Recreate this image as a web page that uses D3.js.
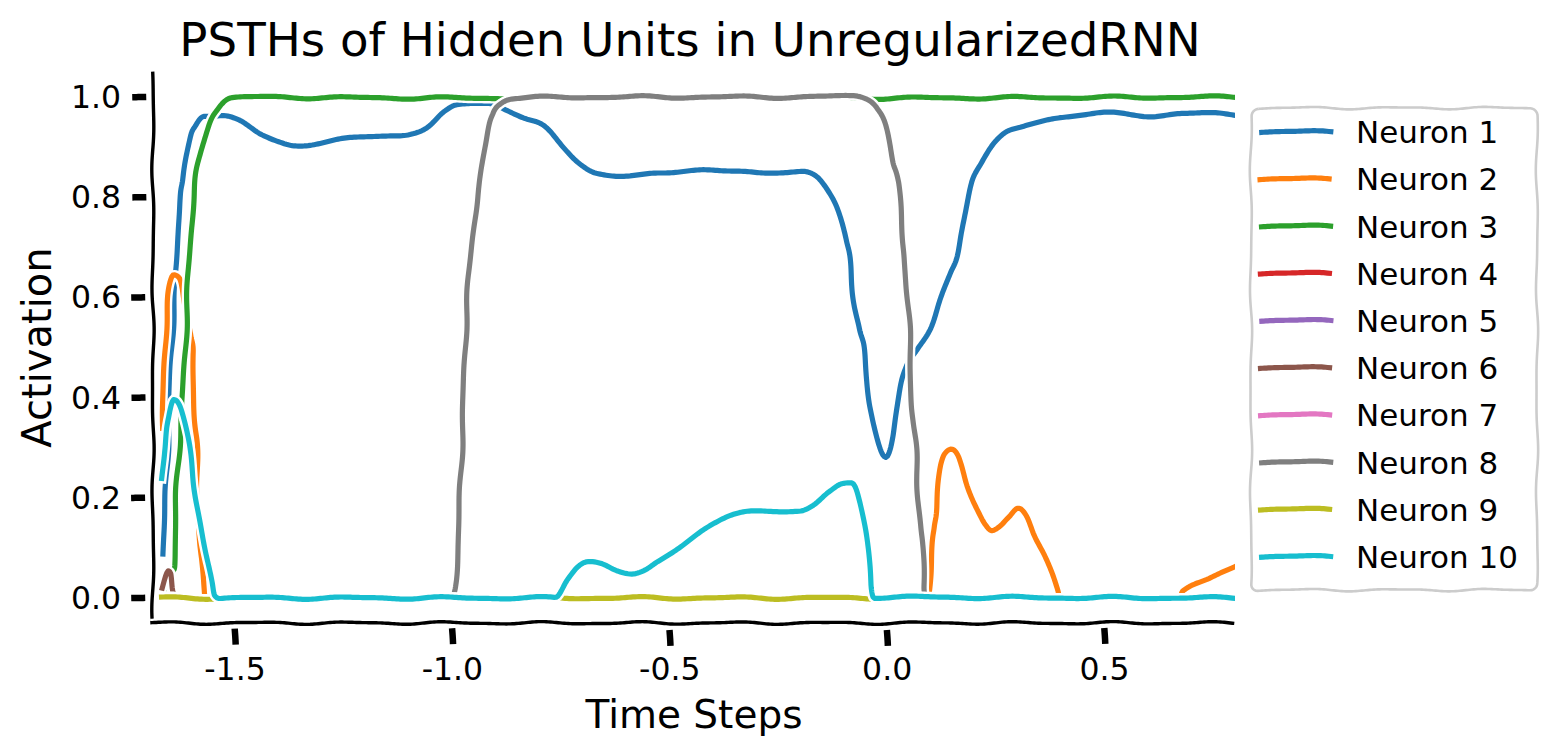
<!DOCTYPE html>
<html><head><meta charset="utf-8">
<script src="https://cdn.jsdelivr.net/npm/d3@7"></script>
<style>
body{margin:0;background:#fff;}
svg{display:block;font-family:"DejaVu Sans",sans-serif;}
</style>
</head><body>
<svg id="c" width="1556" height="756"></svg>
<script>
// ---------------- data ----------------
const neuronNames = ["Neuron 1","Neuron 2","Neuron 3","Neuron 4","Neuron 5","Neuron 6","Neuron 7","Neuron 8","Neuron 9","Neuron 10"];
const neuronColors = ["#1f77b4","#ff7f0e","#2ca02c","#d62728","#9467bd","#8c564b","#e377c2","#7f7f7f","#bcbd22","#17becf"];
const xTicks = [-1.5,-1.0,-0.5,0.0,0.5];
const xTickLabels = ["-1.5","-1.0","-0.5","0.0","0.5"];
const yTicks = [0.0,0.2,0.4,0.6,0.8,1.0];
const yTickLabels = ["0.0","0.2","0.4","0.6","0.8","1.0"];
const titleText = "PSTHs of Hidden Units in UnregularizedRNN";
const xLabel = "Time Steps";
const yLabel = "Activation";

const n1_t = [-1.667,-1.655,-1.651,-1.635,-1.628,-1.618,-1.602,-1.594,-1.572,-1.533,-1.494,-1.441,-1.402,-1.366,-1.310,-1.234,-1.159,-1.097,-1.057,-1.021,-0.989,-0.943,-0.913,-0.883,-0.837,-0.791,-0.745,-0.706,-0.667,-0.591,-0.515,-0.423,-0.361,-0.299,-0.246,-0.193,-0.161,-0.138,-0.115,-0.094,-0.083,-0.076,-0.067,-0.051,-0.044,-0.034,-0.021,-0.005,0.011,0.023,0.032,0.044,0.067,0.099,0.120,0.147,0.163,0.170,0.182,0.195,0.218,0.241,0.264,0.306,0.361,0.416,0.490,0.566,0.605,0.680,0.800];
const n1_v = [0.086,0.291,0.404,0.653,0.789,0.835,0.928,0.942,0.964,0.964,0.954,0.924,0.910,0.904,0.908,0.918,0.922,0.928,0.940,0.968,0.984,0.988,0.988,0.978,0.958,0.940,0.900,0.869,0.849,0.841,0.849,0.855,0.851,0.849,0.851,0.851,0.841,0.815,0.773,0.711,0.663,0.588,0.540,0.486,0.416,0.363,0.307,0.283,0.321,0.376,0.424,0.458,0.492,0.540,0.588,0.649,0.691,0.731,0.787,0.829,0.869,0.904,0.924,0.938,0.954,0.962,0.968,0.964,0.962,0.968,0.964];

const n2_t = [-1.667,-1.660,-1.651,-1.639,-1.628,-1.619,-1.614,-1.603,-1.597,-1.593,-1.588,-1.584,-1.578,-1.571,-1.566,0.097,0.101,0.108,0.115,0.122,0.131,0.145,0.159,0.170,0.186,0.209,0.225,0.241,0.257,0.280,0.303,0.322,0.336,0.361,0.377,0.393,0.400,0.674,0.680,0.743,0.800];
const n2_v = [0.337,0.518,0.612,0.643,0.639,0.617,0.576,0.520,0.498,0.363,0.291,0.149,0.078,0.022,0.0,0.0,0.088,0.141,0.177,0.265,0.289,0.297,0.287,0.265,0.225,0.177,0.149,0.135,0.141,0.159,0.177,0.160,0.128,0.085,0.052,0.016,0.0,0.0,0.014,0.038,0.064];

const n3_t = [-1.667,-1.648,-1.641,-1.634,-1.623,-1.614,-1.607,-1.593,-1.579,-1.561,-1.540,-1.510,-1.464,-1.300,-1.000,-0.500,0.000,0.400,0.800];
const n3_v = [0.0,0.048,0.056,0.219,0.363,0.504,0.647,0.815,0.888,0.948,0.978,0.998,1.0,0.999,0.998,0.999,0.998,0.999,1.0];

const n4_t = [-1.667,0.800];
const n4_v = [0.0,0.0];
const n5_t = [-1.667,0.800];
const n5_v = [0.0,0.0];

const n6_t = [-1.667,-1.660,-1.655,-1.650,-1.644,-1.637,0.800];
const n6_v = [0.018,0.044,0.052,0.048,0.018,0.0,0.0];

const n7_t = [-1.667,0.800];
const n7_v = [0.0,0.0];

const n8_t = [-1.667,-0.998,-0.993,-0.986,-0.979,-0.975,-0.968,-0.959,-0.943,-0.929,-0.920,-0.908,-0.890,-0.860,-0.660,-0.430,-0.200,-0.076,-0.044,-0.023,-0.007,0.005,0.016,0.028,0.032,0.039,0.048,0.053,0.055,0.060,0.067,0.071,0.077,0.083,0.085,0.090,0.800];
const n8_v = [0.0,0.0,0.018,0.137,0.277,0.396,0.556,0.675,0.795,0.869,0.934,0.968,0.988,0.998,1.0,1.0,1.0,1.002,0.996,0.979,0.952,0.910,0.869,0.829,0.745,0.677,0.588,0.486,0.416,0.349,0.279,0.211,0.141,0.074,0.018,0.0,0.0];

const n9_t = [-1.667,0.800];
const n9_v = [0.0,0.0];

const n10_t = [-1.667,-1.664,-1.651,-1.639,-1.628,-1.615,-1.602,-1.586,-1.570,-1.554,-1.545,-1.533,-0.761,-0.736,-0.713,-0.687,-0.660,-0.621,-0.586,-0.561,-0.529,-0.476,-0.414,-0.368,-0.322,-0.262,-0.200,-0.170,-0.131,-0.101,-0.080,-0.069,-0.055,-0.044,-0.037,-0.028,0.800];
const n10_v = [0.237,0.291,0.362,0.394,0.386,0.349,0.277,0.185,0.100,0.036,0.006,0.0,0.0,0.038,0.064,0.074,0.070,0.054,0.046,0.052,0.072,0.104,0.141,0.161,0.171,0.175,0.173,0.183,0.211,0.227,0.229,0.217,0.163,0.098,0.024,0.002,0.0];

const seriesT = [n1_t,n2_t,n3_t,n4_t,n5_t,n6_t,n7_t,n8_t,n9_t,n10_t];
const seriesV = [n1_v,n2_v,n3_v,n4_v,n5_v,n6_v,n7_v,n8_v,n9_v,n10_v];

// ---------------- layout ----------------
const svg = d3.select("#c");
const L = 153, R = 1235, T = 72, B = 623;
const x = d3.scaleLinear().domain([-1.6885, 0.8]).range([L, R]);
const y = d3.scaleLinear().domain([-0.05, 1.05]).range([B, T]);

const LW = 5.2, WW = 10;

// xkcd-like sketch: smooth position-dependent displacement field
function jit(px, py) {
  const dx = 1.2 * (0.7*Math.sin(2*Math.PI*py/110 + 1.3) + 0.3*Math.sin(2*Math.PI*py/63 + 0.4));
  const dy = 1.4 * (0.7*Math.sin(2*Math.PI*px/95 + 0.2) + 0.3*Math.sin(2*Math.PI*px/52 + 2.1));
  return [px + dx, py + dy];
}
const tmp = svg.append("path").attr("fill","none").attr("stroke","none");
function sketch(d) {
  tmp.attr("d", d);
  const node = tmp.node();
  const len = node.getTotalLength();
  const n = Math.max(2, Math.ceil(len / 2));
  const pts = [];
  for (let i = 0; i <= n; i++) {
    const p = node.getPointAtLength(len * i / n);
    pts.push(jit(p.x, p.y));
  }
  return "M" + pts.map(p => p[0].toFixed(2) + "," + p[1].toFixed(2)).join("L");
}
function drawSketched(g, d, color, width, white, cap) {
  const sd = sketch(d);
  g.append("path").attr("d", sd).attr("fill","none").attr("stroke","#fff")
    .attr("stroke-width", white).attr("stroke-linejoin","round").attr("stroke-linecap", cap || "square");
  g.append("path").attr("d", sd).attr("fill","none").attr("stroke",color)
    .attr("stroke-width", width).attr("stroke-linejoin","round").attr("stroke-linecap", cap || "square");
}

svg.append("defs").append("clipPath").attr("id","clip")
  .append("rect").attr("x",L).attr("y",T).attr("width",R-L).attr("height",B-T);

const lineGen = d3.line().x(d => x(d[0])).y(d => y(d[1])).curve(d3.curveMonotoneX);
const plot = svg.append("g").attr("clip-path","url(#clip)");
seriesT.forEach((ts, i) => {
  const pts = d3.zip(ts, seriesV[i]);
  drawSketched(plot, lineGen(pts), neuronColors[i], LW, WW);
});

// spines
const axG = svg.append("g");
drawSketched(axG, `M${L},${T}L${L},${B}`, "#000", 3.4, 8, "butt");
drawSketched(axG, `M${L-2},${B}L${R},${B}`, "#000", 3.4, 8, "butt");

// ticks
yTicks.forEach(v => {
  drawSketched(axG, `M${L-21},${y(v)}L${L-7},${y(v)}`, "#000", 6.5, 9, "butt");
});
xTicks.forEach(v => {
  drawSketched(axG, `M${x(v)},${B+6}L${x(v)},${B+22}`, "#000", 6.5, 9, "butt");
});

// tick labels
const textG = svg.append("g").attr("fill","#000");
yTicks.forEach((v, i) => {
  textG.append("text").attr("x", 121).attr("y", y(v) + 11).attr("text-anchor","end")
    .attr("font-size", 31.5).text(yTickLabels[i]);
});
xTicks.forEach((v, i) => {
  textG.append("text").attr("x", x(v)).attr("y", 680).attr("text-anchor","middle")
    .attr("font-size", 31.5).text(xTickLabels[i]);
});

// axis labels & title
textG.append("text").attr("x", (L+R)/2).attr("y", 728).attr("text-anchor","middle")
  .attr("font-size", 39).text(xLabel);
textG.append("text").attr("transform", `translate(51,${(T+B)/2}) rotate(-90)`).attr("text-anchor","middle")
  .attr("font-size", 40).text(yLabel);
textG.append("text").attr("x", 690).attr("y", 56).attr("text-anchor","middle")
  .attr("font-size", 46.7).text(titleText);

// legend
const lg = svg.append("g");
const bx0 = 1251, by0 = 108, bx1 = 1537, by1 = 590, rr = 7;
const fp = d3.path();
fp.moveTo(bx0 + rr, by0);
fp.lineTo(bx1 - rr, by0); fp.arcTo(bx1, by0, bx1, by0 + rr, rr);
fp.lineTo(bx1, by1 - rr); fp.arcTo(bx1, by1, bx1 - rr, by1, rr);
fp.lineTo(bx0 + rr, by1); fp.arcTo(bx0, by1, bx0, by1 - rr, rr);
fp.lineTo(bx0, by0 + rr); fp.arcTo(bx0, by0, bx0 + rr, by0, rr);
fp.closePath();
const frameD = sketch(fp.toString());
lg.append("path").attr("d", frameD).attr("fill","#fff").attr("fill-opacity",0.8)
  .attr("stroke","#cccccc").attr("stroke-width",2.6);
neuronNames.forEach((name, i) => {
  const ry = 131.7 + i * 47.2;
  drawSketched(lg, `M1261,${ry}L1330,${ry}`, neuronColors[i], LW, WW);
  lg.append("text").attr("x", 1356).attr("y", ry + 11.5).attr("font-size", 31).attr("fill","#000").text(name);
});
tmp.remove();
</script>
</body></html>
